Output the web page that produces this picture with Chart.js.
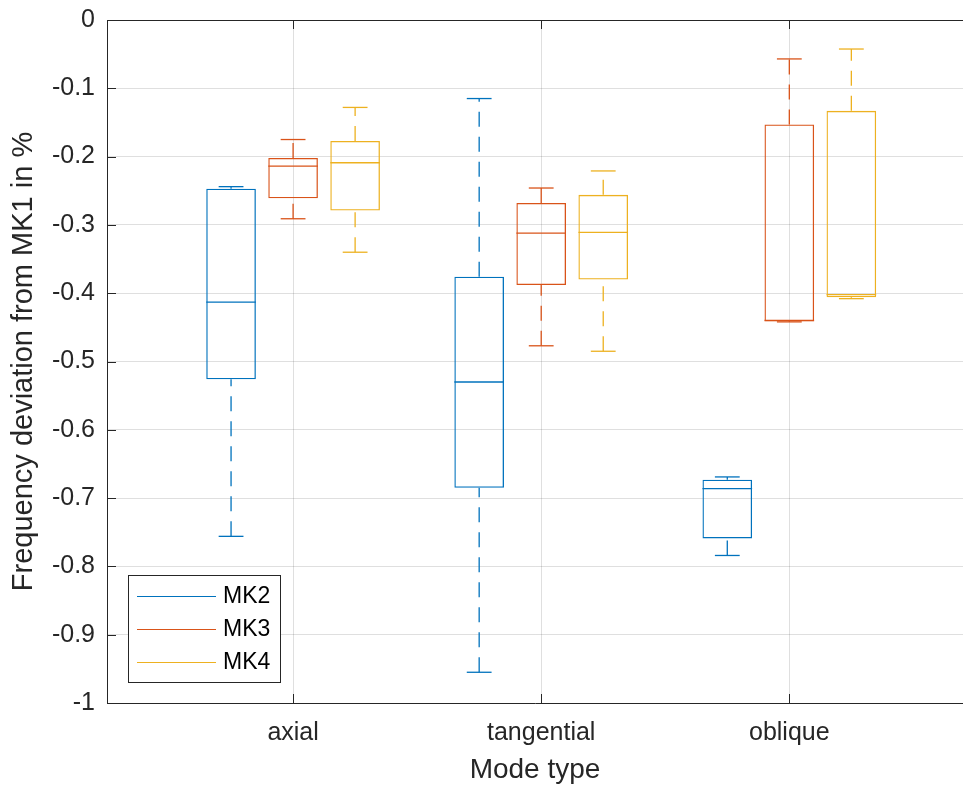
<!DOCTYPE html>
<html>
<head>
<meta charset="utf-8">
<script src="https://cdn.jsdelivr.net/npm/chart.js@4.4.1/dist/chart.umd.min.js"></script>
<style>
  html, body { margin: 0; padding: 0; background: #fff; overflow: hidden; }
  #wrap { width: 963px; height: 787px; }
</style>
</head>
<body>
<div id="wrap"><canvas id="chart" width="963" height="787"></canvas></div>
<script>
// Boxplot values per series, one entry per category: [min, q1, median, q3, max]
const categories = ['axial', 'tangential', 'oblique'];
const seriesNames = ['MK2', 'MK3', 'MK4'];
const seriesColors = ['#0072BD', '#D95319', '#EDB120'];

const mk2Boxes = [
    [-0.756, -0.526, -0.413, -0.247, -0.244],
    [-0.955, -0.685, -0.530, -0.376, -0.115],
    [-0.784, -0.759, -0.686, -0.673, -0.669]
];
const mk3Boxes = [
    [-0.291, -0.261, -0.214, -0.202, -0.175],
    [-0.477, -0.388, -0.312, -0.268, -0.246],
    [-0.442, -0.441, -0.440, -0.153, -0.057]
];
const mk4Boxes = [
    [-0.340, -0.279, -0.209, -0.177, -0.128],
    [-0.485, -0.380, -0.311, -0.256, -0.221],
    [-0.408, -0.406, -0.402, -0.133, -0.0425]
];

const yMin = -1;
const yMax = 0;
const yStep = 0.1;

const allBoxes = [mk2Boxes, mk3Boxes, mk4Boxes];
const FONT = '"Liberation Sans", Arial, Helvetica, sans-serif';
const INK = '#262626';

// Median, whiskers and caps on top of the floating bars
const boxExtras = {
    id: 'boxExtras',
    afterDatasetsDraw(chart) {
        const ctx = chart.ctx;
        const y = chart.scales.y;
        const line = (x1, y1, x2, y2) => {
            ctx.beginPath();
            ctx.moveTo(x1, y1);
            ctx.lineTo(x2, y2);
            ctx.stroke();
        };
        chart.data.datasets.forEach((ds, di) => {
            const meta = chart.getDatasetMeta(di);
            meta.data.forEach((bar, i) => {
                const [lo, q1, med, q3, hi] = ds.stats[i];
                const half = bar.width / 2;
                const cap = bar.width / 4;
                const yLo = y.getPixelForValue(lo);
                const yQ1 = y.getPixelForValue(q1);
                const yMed = y.getPixelForValue(med);
                const yQ3 = y.getPixelForValue(q3);
                const yHi = y.getPixelForValue(hi);
                ctx.save();
                ctx.strokeStyle = ds.borderColor;
                ctx.lineWidth = 1.3;
                line(bar.x - half, yMed, bar.x + half, yMed);
                line(bar.x - cap, yHi, bar.x + cap, yHi);
                line(bar.x - cap, yLo, bar.x + cap, yLo);
                ctx.setLineDash([15, 10]);
                line(bar.x, yQ3, bar.x, yHi);
                line(bar.x, yLo, bar.x, yQ1);
                ctx.restore();
            });
        });
    }
};

// Inner tick marks, top border line and the legend box
const frame = {
    id: 'frame',
    afterDraw(chart) {
        const ctx = chart.ctx;
        const a = chart.chartArea;
        const xs = chart.scales.x;
        const ys = chart.scales.y;
        ctx.save();
        ctx.strokeStyle = INK;
        ctx.lineWidth = 1;
        ctx.beginPath();
        ctx.moveTo(a.left, a.top + 0.5);
        ctx.lineTo(a.right, a.top + 0.5);
        ys.ticks.forEach(t => {
            const py = Math.round(ys.getPixelForValue(t.value)) + 0.5;
            ctx.moveTo(a.left, py);
            ctx.lineTo(a.left + 9, py);
        });
        xs.ticks.forEach(t => {
            const px = Math.round(xs.getPixelForValue(t.value)) + 0.5;
            ctx.moveTo(px, a.bottom);
            ctx.lineTo(px, a.bottom - 9);
            ctx.moveTo(px, a.top);
            ctx.lineTo(px, a.top + 9);
        });
        ctx.stroke();

        // legend
        const lx = a.left + 21, lw = 152, lh = 107;
        const ly = a.bottom - 21 - lh;
        ctx.fillStyle = '#fff';
        ctx.fillRect(lx, ly, lw, lh);
        ctx.strokeRect(lx + 0.5, ly + 0.5, lw, lh);
        ctx.font = '23px ' + FONT;
        ctx.textBaseline = 'middle';
        ctx.textAlign = 'left';
        seriesNames.forEach((name, s) => {
            const rowY = ly + 21 + s * 33;
            ctx.strokeStyle = seriesColors[s];
            ctx.beginPath();
            ctx.moveTo(lx + 9, rowY + 0.5);
            ctx.lineTo(lx + 88, rowY + 0.5);
            ctx.stroke();
            ctx.fillStyle = '#000';
            ctx.fillText(name, lx + 95, rowY + 1);
        });
        ctx.restore();
    }
};

new Chart(document.getElementById('chart'), {
    type: 'bar',
    data: {
        datasets: seriesNames.map((name, s) => ({
            label: name,
            data: categories.map((c, i) => ({ x: i + 1, y: [allBoxes[s][i][1], allBoxes[s][i][3]] })),
            stats: allBoxes[s],
            borderColor: seriesColors[s],
            backgroundColor: 'rgba(0,0,0,0)',
            borderWidth: 1.3,
            borderSkipped: false,
            categoryPercentage: 0.75,
            barPercentage: 0.8
        }))
    },
    options: {
        responsive: false,
        animation: false,
        layout: { padding: { top: 20, right: 0, left: 0, bottom: 0 } },
        plugins: {
            legend: { display: false },
            tooltip: { enabled: false }
        },
        scales: {
            x: {
                type: 'linear',
                min: 0.25,
                max: 3.70,
                offset: false,
                afterBuildTicks: scale => {
                    scale.ticks = categories.map((c, i) => ({ value: i + 1 }));
                },
                afterFit: scale => { scale.height = 84; },
                ticks: {
                    callback: v => categories[Math.round(v) - 1],
                    font: { size: 25, family: FONT },
                    color: INK,
                    padding: 15,
                    maxRotation: 0
                },
                grid: {
                    offset: false,
                    color: 'rgba(38,38,38,0.15)',
                    drawTicks: false
                },
                border: { color: INK, width: 1 },
                title: {
                    display: true,
                    text: 'Mode type',
                    font: { size: 28, family: FONT },
                    color: INK,
                    padding: { top: 0, bottom: 0 }
                }
            },
            y: {
                min: yMin,
                max: yMax,
                afterFit: scale => {
                    scale.width = 107;
                    scale.paddingTop = 0;
                    scale.paddingBottom = 0;
                },
                ticks: {
                    stepSize: yStep,
                    callback: v => String(Math.round(v * 10) / 10),
                    font: { size: 25, family: FONT },
                    color: INK,
                    padding: 12
                },
                grid: {
                    color: 'rgba(38,38,38,0.15)',
                    drawTicks: false
                },
                border: { color: INK, width: 1 },
                title: {
                    display: true,
                    text: 'Frequency deviation from MK1 in %',
                    font: { size: 29, family: FONT },
                    color: INK,
                    padding: { top: 7, bottom: 0 }
                }
            }
        }
    },
    plugins: [boxExtras, frame]
});
</script>
</body>
</html>
